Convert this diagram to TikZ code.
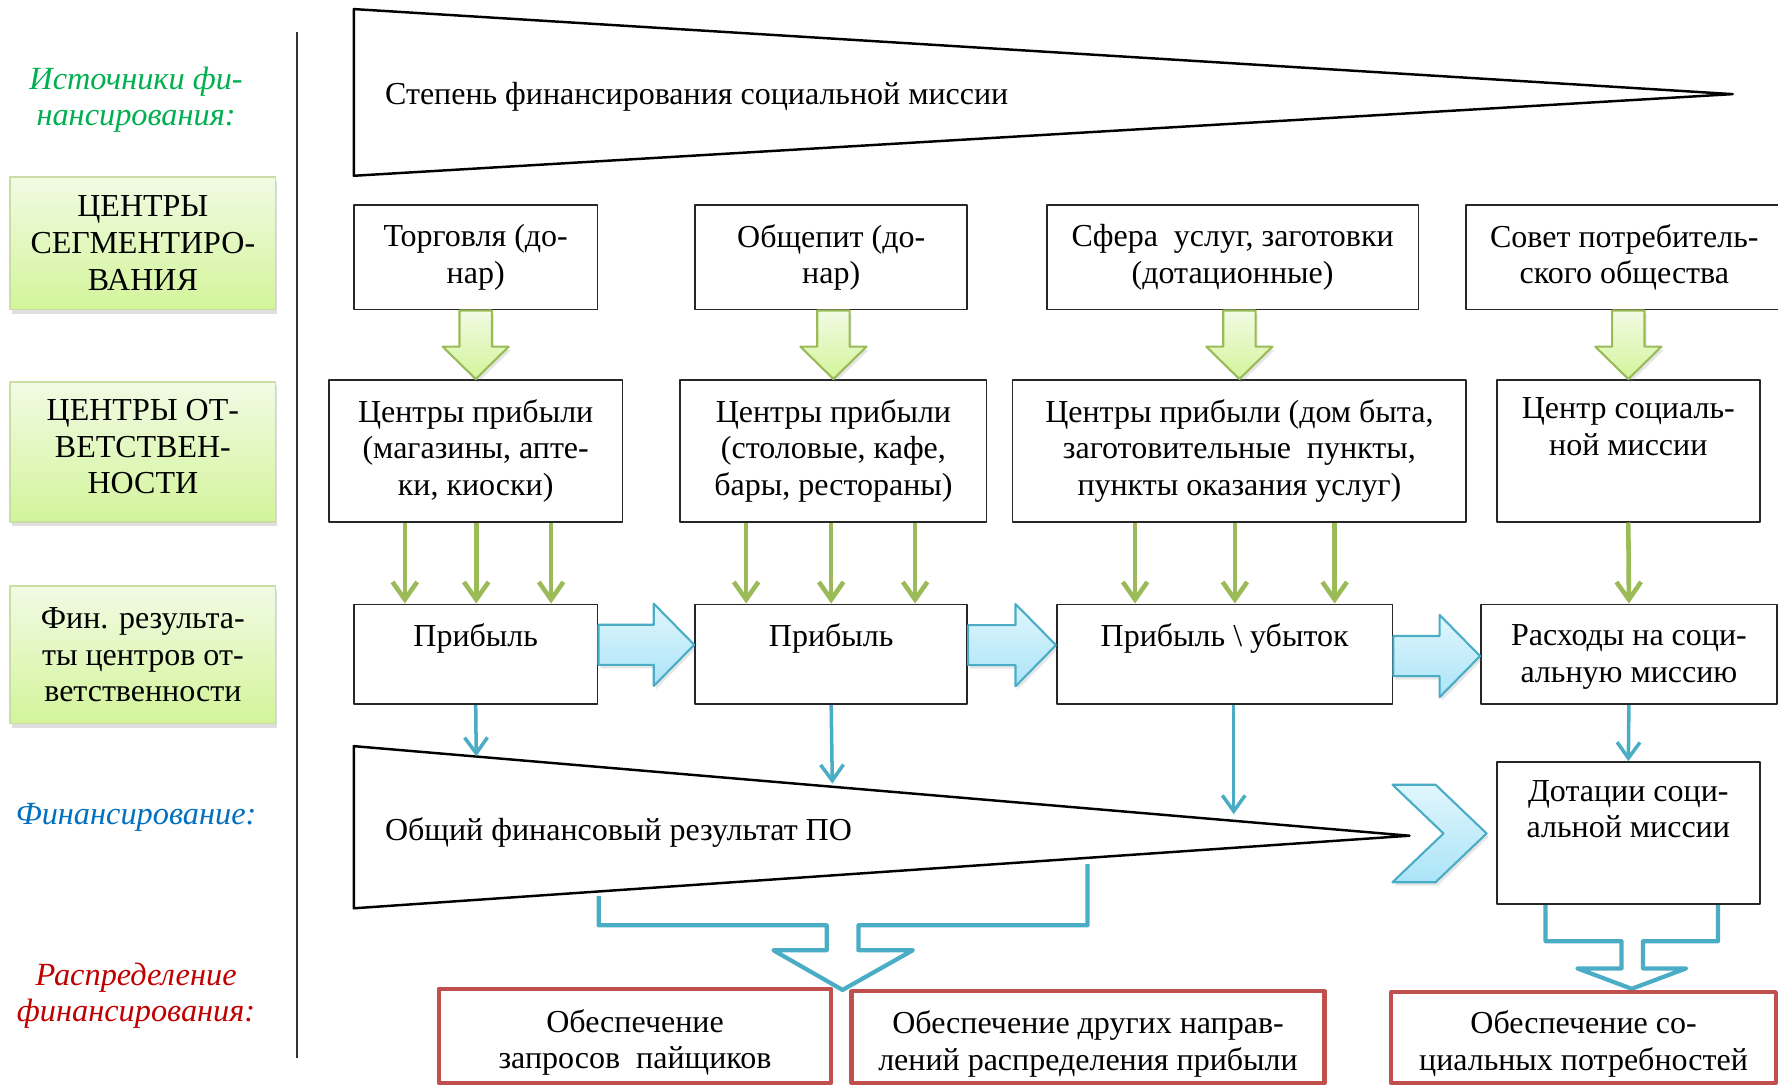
\documentclass[tikz,border=0pt]{standalone}
\usepackage{fontspec}
\setmainfont{Liberation Serif}
\usepackage{xcolor}
\usepackage{tikz}
\usetikzlibrary{arrows.meta,calc,fit,shadows}
\definecolor{leafLine}{HTML}{9BBB59}
\definecolor{leafTop}{HTML}{F1FBE4}
\definecolor{leafBot}{HTML}{D3F49A}
\definecolor{panelEdge}{HTML}{C9DDA4}
\definecolor{skyLine}{HTML}{4BACC6}
\definecolor{skyTop}{HTML}{E0F6FC}
\definecolor{skyBot}{HTML}{ABE4F8}
\definecolor{brickLine}{HTML}{C0504D}
\definecolor{tagGreen}{HTML}{00B050}
\definecolor{tagBlue}{HTML}{0070C0}
\definecolor{tagRed}{HTML}{C00000}

% green block arrow from the bottom of #1 to the top of #2
\newcommand{\dropblock}[2]{%
  \path[greenblock] let \p1=(#1.south), \p2=(#2.north) in
    (\x2-4.6pt,\y1) -- (\x2+4.6pt,\y1) -- (\x2+4.6pt,\y2+9.2pt)
    -- (\x2+9.4pt,\y2+9.2pt) -- (\x2,\y2) -- (\x2-9.4pt,\y2+9.2pt)
    -- (\x2-4.6pt,\y2+9.2pt) -- cycle;}
% blue block arrow from #1 to #2, its axis raised by #3
\newcommand{\pushblock}[3]{%
  \path[blueblock] let \p1=(#1.east), \p2=(#2.west) in
    (\x1,\y1+#3+5.7pt) -- (\x2-11.5pt,\y1+#3+5.7pt) -- (\x2-11.5pt,\y1+#3+11.7pt)
    -- (\x2,\y1+#3) -- (\x2-11.5pt,\y1+#3-11.7pt) -- (\x2-11.5pt,\y1+#3-5.7pt)
    -- (\x1,\y1+#3-5.7pt) -- cycle;}

\begin{document}
\begin{tikzpicture}[x=0.01134cm, y=-0.01134cm, line join=round,
  every node/.style={font=\fontsize{9.1}{10.45}\selectfont},
  box/.style={draw=black!85, line width=0.5pt, inner sep=0pt},
  boxtext/.style={align=center},
  panel/.style={draw=panelEdge, line width=0.5pt, inner sep=0pt,
    top color=leafTop, bottom color=leafBot,
    drop shadow={opacity=0.25, shadow xshift=0.4pt, shadow yshift=-1.2pt}},
  outcome/.style={draw=brickLine, line width=1.2pt, inner sep=0pt},
  tag/.style={align=center, font=\fontsize{9.2}{10.45}\selectfont\itshape},
  wedge/.style={draw=black, line width=0.7pt, fill=white},
  leafarrow/.style={draw=leafLine, line width=1.3pt, -{Straight Barb[length=5pt,width=7pt]}},
  skyarrow/.style={draw=skyLine, line width=1pt, -{Straight Barb[length=4.5pt,width=6.5pt]}},
  greenblock/.style={draw=leafLine, line width=0.6pt, top color=leafTop, bottom color=leafBot,
    drop shadow={opacity=0.2, shadow xshift=0.6pt, shadow yshift=-1pt}},
  blueblock/.style={draw=skyLine, line width=0.6pt, top color=skyTop, bottom color=skyBot,
    drop shadow={opacity=0.2, shadow xshift=0.6pt, shadow yshift=-1pt}},
  fork/.style={draw=skyLine, line width=1.2pt}]
  \useasboundingbox (0,0) rectangle (1568,958);

  % Left column
  \node[tag, text=tagGreen] (srcTag) at (120,88) {Источники фи-\\нансирования:};
  \node[panel, fit={(9,156) (243,273)}, label={[boxtext]center:{ЦЕНТРЫ\\СЕГМЕНТИРО-\\ВАНИЯ}}] (segPanel) {};
  \node[panel, fit={(9,337) (243,460)}, label={[boxtext, yshift=1.5pt]center:{ЦЕНТРЫ ОТ-\\ВЕТСТВЕН-\\НОСТИ}}] (respPanel) {};
  \node[panel, fit={(9,517) (243,638)}, label={[boxtext]center:{Фин. результа-\\ты центров от-\\ветственности}}] (finPanel) {};
  \node[tag, text=tagBlue] (fundTag) at (120,721) {Финансирование:};
  \node[tag, text=tagRed] (distTag) at (120,878) {Распределение\\финансирования:};
  \draw[black!80, line width=0.6pt] (262,28) -- (262,933);

  % Degree of financing wedge
  \draw[wedge] (312,8) -- (1528,83) -- (312,155) -- cycle;
  \node[anchor=west, inner sep=0pt] (degText) at (339,85) {Степень финансирования социальной миссии};

  % Segmentation centres
  \node[box, fit={(312,181) (527,273)}, label={[boxtext]center:{Торговля (до-\\нар)}}] (seg1) {};
  \node[box, fit={(613,181) (853,273)}, label={[boxtext]center:{Общепит (до-\\нар)}}] (seg2) {};
  \node[box, fit={(923,181) (1251,273)}, label={[boxtext]center:{Сфера\ \ услуг, заготовки\\(дотационные)}}] (seg3) {};
  \node[box, fit={(1293,181) (1572,273)}, label={[boxtext]center:{Совет потребитель-\\ского общества}}] (seg4) {};

  % Responsibility centres
  \node[box, fit={(290,335) (549,460)}, label={[boxtext]center:{Центры прибыли\\(магазины, апте-\\ки, киоски)}}] (ctr1) {};
  \node[box, fit={(600,335) (870,460)}, label={[boxtext]center:{Центры прибыли\\(столовые, кафе,\\бары, рестораны)}}] (ctr2) {};
  \node[box, fit={(893,335) (1293,460)}, label={[boxtext]center:{Центры прибыли (дом быта,\\заготовительные\ \ пункты,\\пункты оказания услуг)}}] (ctr3) {};
  \node[box, fit={(1320,335) (1552,460)}, label={[boxtext]center:{Центр социаль-\\ной миссии\\ \strut}}] (ctr4) {};

  \dropblock{seg1}{ctr1}
  \dropblock{seg2}{ctr2}
  \dropblock{seg3}{ctr3}
  \dropblock{seg4}{ctr4}

  % Financial results
  \node[box, fit={(312,533) (527,621)}, label={[boxtext, yshift=-1.3pt]center:{Прибыль\\ \strut}}] (res1) {};
  \node[box, fit={(613,533) (853,621)}, label={[boxtext, yshift=-1.3pt]center:{Прибыль\\ \strut}}] (res2) {};
  \node[box, fit={(932,533) (1228,621)}, label={[boxtext, yshift=-1.3pt]center:{Прибыль \textbackslash\ убыток\\ \strut}}] (res3) {};
  \node[box, fit={(1306,533) (1567,621)}, label={[boxtext, yshift=-0.7pt]center:{Расходы на соци-\\альную миссию}}] (res4) {};

  \foreach \x in {357,420,486} \draw[leafarrow] (\x,0 |- ctr1.south) -- (\x,0 |- res1.north);
  \foreach \x in {658,733,807} \draw[leafarrow] (\x,0 |- ctr2.south) -- (\x,0 |- res2.north);
  \foreach \x in {1001,1089,1177} \draw[leafarrow] (\x,0 |- ctr3.south) -- (\x,0 |- res3.north);
  \draw[leafarrow] (ctr4.south) -- (res4.north);

  \pushblock{res1}{res2}{2.7pt}
  \pushblock{res2}{res3}{2.6pt}
  \pushblock{res3}{res4}{-0.5pt}

  % Distribution forks
  \draw[fork] (528,790) -- (528,816) -- (729,816) -- (729,838) -- (682,838) -- (743,873)
    -- (805,838) -- (757,838) -- (757,816) -- (959,816) -- (959,762);
  \draw[fork] (1363,797) -- (1363,830) -- (1430,830) -- (1430,854) -- (1391,854) -- (1439,872)
    -- (1487,854) -- (1449,854) -- (1449,830) -- (1515,830) -- (1515,797);

  % Overall result wedge
  \draw[wedge] (312,658) -- (1243,737) -- (312,801) -- cycle;
  \node[anchor=west, inner sep=0pt] (sumText) at (339,734) {Общий финансовый результат ПО};
  \path[blueblock] (1228,692) -- (1266,692) -- (1311,735) -- (1266,778) -- (1228,778) -- (1273,735) -- cycle;
  \node[box, fit={(1320,672) (1552,797)}, label={[boxtext]center:{Дотации соци-\\альной миссии\\ \strut}}] (subsidy) {};

  \coordinate (hit1) at (420,667);
  \coordinate (hit2) at (734,691);
  \coordinate (hit3) at (1088,718);
  \draw[skyarrow] (res1.south) -- (hit1);
  \draw[skyarrow] (res2.south) -- (hit2);
  \draw[skyarrow] (res3.south -| hit3) -- (hit3);
  \draw[skyarrow] (res4.south) -- (subsidy.north);

  % Uses of financing
  \node[outcome, fit={(387,872) (733,955)}, label={[boxtext, yshift=-1.9pt]center:{Обеспечение\\запросов\ \ пайщиков}}] (out1) {};
  \node[outcome, fit={(751,874) (1168,955)}, label={[boxtext, yshift=-1.9pt]center:{Обеспечение других направ-\\лений распределения прибыли}}] (out2) {};
  \node[outcome, fit={(1227,875) (1566,955)}, label={[boxtext, yshift=-1.9pt]center:{Обеспечение со-\\циальных потребностей}}] (out3) {};
\end{tikzpicture}
\end{document}
